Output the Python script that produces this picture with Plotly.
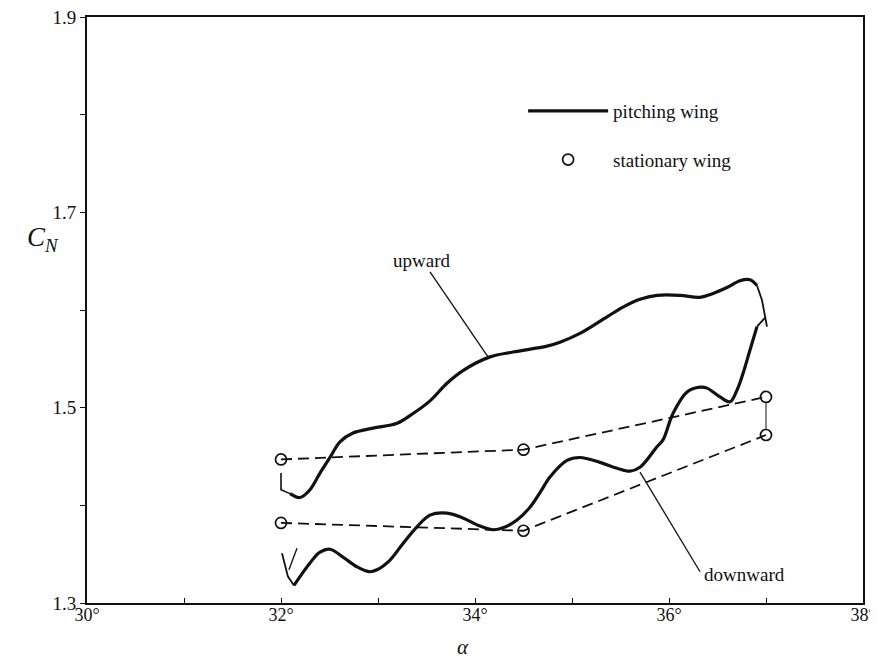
import plotly.graph_objects as go

# ---- data ----
# pitching wing, upward branch
up_alpha = [32.093, 32.196, 32.299, 32.402, 32.505, 32.608, 32.742, 32.948, 33.196, 33.361,
            33.536, 33.711, 33.876, 34.155, 34.392, 34.742, 34.876, 35.082, 35.361, 35.526,
            35.701, 35.876, 36.113, 36.320, 36.454, 36.598, 36.732, 36.835, 36.907]
up_cn = [1.412, 1.408, 1.416, 1.433, 1.449, 1.465, 1.474, 1.479, 1.484, 1.494,
         1.507, 1.525, 1.538, 1.552, 1.557, 1.563, 1.567, 1.576, 1.593, 1.603,
         1.611, 1.615, 1.615, 1.613, 1.617, 1.623, 1.630, 1.631, 1.625]
# thin start / end pieces of the upward branch
up_start_alpha = [32.0, 32.0, 32.093]
up_start_cn = [1.433, 1.416, 1.412]
up_end_alpha = [36.907, 36.959, 37.010]
up_end_cn = [1.625, 1.610, 1.583]

# pitching wing, downward branch
down_alpha = [36.907, 36.835, 36.763, 36.701, 36.629, 36.526, 36.392, 36.320, 36.186, 36.041,
              35.938, 35.876, 35.701, 35.598, 35.464, 35.289, 35.082, 34.948, 34.773, 34.670,
              34.567, 34.433, 34.289, 34.186, 34.021, 33.876, 33.711, 33.536, 33.402, 33.258,
              33.124, 32.990, 32.918, 32.784, 32.639, 32.505, 32.402, 32.299, 32.196, 32.134]
down_cn = [1.583, 1.559, 1.535, 1.518, 1.506, 1.511, 1.520, 1.521, 1.516, 1.494,
           1.467, 1.460, 1.439, 1.435, 1.438, 1.444, 1.449, 1.446, 1.429, 1.413,
           1.398, 1.385, 1.377, 1.375, 1.380, 1.387, 1.392, 1.390, 1.378, 1.361,
           1.344, 1.334, 1.332, 1.337, 1.347, 1.355, 1.352, 1.341, 1.327, 1.318]
down_start_alpha = [36.99, 36.907]
down_start_cn = [1.592, 1.583]
down_end_alpha = [32.134, 32.072, 32.010]
down_end_cn = [1.318, 1.327, 1.351]
down_stroke_alpha = [32.165, 32.082]
down_stroke_cn = [1.356, 1.334]

# stationary wing
stat_alpha = [32.0, 34.5, 37.0]
stat_upper_cn = [1.447, 1.457, 1.511]
stat_lower_cn = [1.382, 1.374, 1.472]
link_alpha = [37.0, 37.0]
link_cn = [1.505, 1.478]

# axis tick labels
x_tickvals = [30, 32, 34, 36, 38]
x_ticktext = ["30°", "32°", "34°", "36°", "38°"]
y_tickvals = [1.3, 1.5, 1.7, 1.9]
y_ticktext = ["1.3", "1.5", "1.7", "1.9"]

# labels with leader lines
upward_label = dict(text="upward", alpha=33.45, cn=1.651)
upward_leader_alpha = [33.536, 34.134]
upward_leader_cn = [1.639, 1.552]
downward_label = dict(text="downward", alpha=36.78, cn=1.329)
downward_leader_alpha = [35.701, 36.32]
downward_leader_cn = [1.434, 1.332]

FONT = "Liberation Serif"
BLACK = "#111111"

fig = go.Figure()

def thin(x, y, w=1.4):
    fig.add_trace(go.Scatter(x=x, y=y, mode="lines", showlegend=False, hoverinfo="skip",
                             line=dict(color=BLACK, width=w)))

# stationary dashed lines
for cn in (stat_upper_cn, stat_lower_cn):
    fig.add_trace(go.Scatter(x=stat_alpha, y=cn, mode="lines+markers", showlegend=False,
                             line=dict(color=BLACK, width=1.8, dash="11px,6px"),
                             marker=dict(symbol="circle-open", size=11, color=BLACK,
                                         line=dict(width=1.7))))
thin(link_alpha, link_cn, 1.0)

# pitching wing curves
fig.add_trace(go.Scatter(x=up_alpha, y=up_cn, mode="lines", name="pitching wing",
                         legendgroup="a", line=dict(color=BLACK, width=3.2, shape="spline")))
fig.add_trace(go.Scatter(x=down_alpha, y=down_cn, mode="lines", showlegend=False,
                         line=dict(color=BLACK, width=3.2, shape="spline")))
thin(up_start_alpha, up_start_cn, 1.6)
thin(up_end_alpha, up_end_cn, 1.8)
thin(down_start_alpha, down_start_cn, 1.8)
thin(down_end_alpha, down_end_cn, 1.8)
thin(down_stroke_alpha, down_stroke_cn, 1.3)

# legend entry for stationary wing
fig.add_trace(go.Scatter(x=[None], y=[None], mode="markers", name="stationary wing",
                         legendgroup="b",
                         marker=dict(symbol="circle-open", size=11, color=BLACK,
                                     line=dict(width=1.7))))

# leader lines
thin(upward_leader_alpha, upward_leader_cn, 1.3)
thin(downward_leader_alpha, downward_leader_cn, 1.3)

for lab in (upward_label, downward_label):
    fig.add_annotation(x=lab["alpha"], y=lab["cn"], text=lab["text"], showarrow=False,
                       font=dict(family=FONT, size=19, color=BLACK))

# axis titles
fig.add_annotation(xref="paper", yref="paper", x=-0.080, y=0.622,
                   text="<i>C</i><sub><i>N</i></sub>", showarrow=False,
                   font=dict(family=FONT, size=27, color=BLACK))
fig.add_annotation(xref="paper", yref="paper", x=0.485, y=-0.052, yanchor="top",
                   text="<i>α</i>", showarrow=False,
                   font=dict(family=FONT, size=21, color=BLACK))

# the page body adds an 8px margin, so the figure is 8px smaller than the window
fig.update_layout(
    width=870, height=652,
    margin=dict(l=79, r=15, t=9, b=57),
    paper_bgcolor="white", plot_bgcolor="white",
    font=dict(family=FONT, size=17, color=BLACK),
    legend=dict(x=0.562, y=0.872, xanchor="left", yanchor="top",
                bgcolor="rgba(0,0,0,0)", tracegroupgap=21, itemwidth=80,
                font=dict(family=FONT, size=19, color=BLACK)),
    xaxis=dict(range=[30, 38], tickmode="array", tickvals=x_tickvals, ticktext=x_ticktext,
               ticks="inside", ticklen=5, tickcolor=BLACK, tickwidth=1.3,
               ticklabelstandoff=-6, ticklabeloverflow="allow",
               minor=dict(dtick=1, tick0=30, ticks="inside", ticklen=5, tickcolor=BLACK,
                          tickwidth=1.3),
               showline=True, linecolor=BLACK, linewidth=2, mirror=True,
               showgrid=False, zeroline=False, fixedrange=True, automargin=False,
               tickfont=dict(family=FONT, size=18, color=BLACK)),
    yaxis=dict(range=[1.3, 1.9], tickmode="array", tickvals=y_tickvals, ticktext=y_ticktext,
               ticks="outside", ticklen=5, tickcolor=BLACK, tickwidth=1.3,
               ticklabeloverflow="allow",
               minor=dict(dtick=0.1, tick0=1.3, ticks="outside", ticklen=5, tickcolor=BLACK,
                          tickwidth=1.3),
               showline=True, linecolor=BLACK, linewidth=2, mirror=True,
               showgrid=False, zeroline=False, fixedrange=True, automargin=False,
               tickfont=dict(family=FONT, size=19, color=BLACK)),
)

fig.write_html("out.html")
